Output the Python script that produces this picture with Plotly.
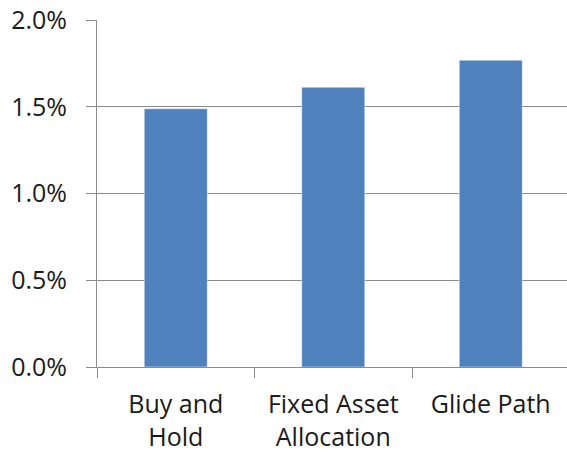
import plotly.graph_objects as go

# Strategy categories and their values (as fractions, shown as percent)
categories = ["Buy and<br>Hold", "Fixed Asset<br>Allocation", "Glide Path"]
values = [0.01488, 0.01612, 0.01768]
y_ticks = [0.0, 0.005, 0.010, 0.015, 0.020]

bar_color = "#4F81BD"
axis_gray = "#8C8C8C"
font_family = "Open Sans, Lato, DejaVu Sans, sans-serif"

fig = go.Figure(
    go.Bar(
        x=categories,
        y=values,
        marker=dict(color=bar_color, line=dict(color="rgba(255,255,255,0.45)", width=1)),
        width=0.4,
        hoverinfo="skip",
    )
)

fig.update_layout(
    width=567,
    height=458,
    margin=dict(l=97, r=0, t=20, b=91),
    paper_bgcolor="white",
    plot_bgcolor="white",
    showlegend=False,
    font=dict(family=font_family, size=25, color="#1A1A1A"),
)

fig.update_xaxes(
    range=[-0.5, 2.484],
    showline=True,
    linecolor=axis_gray,
    linewidth=1,
    ticks="outside",
    tickson="boundaries",
    ticklen=10,
    tickcolor=axis_gray,
    tickwidth=1,
    showgrid=False,
    zeroline=False,
    ticklabelstandoff=15,
    tickfont=dict(size=25),
)

fig.update_yaxes(
    range=[0, 0.02],
    tickvals=y_ticks,
    tickformat=".1%",
    showline=True,
    linecolor=axis_gray,
    linewidth=1,
    ticks="outside",
    ticklen=10,
    tickcolor=axis_gray,
    tickwidth=1,
    showgrid=True,
    gridcolor=axis_gray,
    gridwidth=1,
    zeroline=False,
    ticklabelstandoff=14,
    tickfont=dict(size=25),
)

fig.write_html("out.html")
